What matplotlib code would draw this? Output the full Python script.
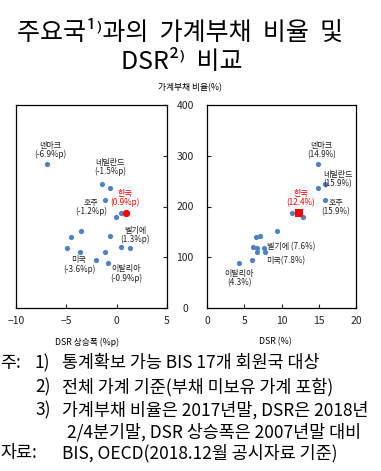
import matplotlib
matplotlib.use('Agg')
import matplotlib.pyplot as plt

plt.rcParams['font.family'] = ['Noto Sans CJK KR', 'DejaVu Sans']

# debt ratio (y, shared by both panels)
debt_ratio = [283, 245, 237, 212, 188, 188, 180, 151, 139, 141, 121, 119, 118, 111, 110, 94, 88]
# DSR change since 2007 (%p), left panel
dsr_change = [-6.9, -1.5, -0.7, -1.2, 0.9, 0.4, -0.05, -3.5, -4.5, -0.7, 0.4, 1.3, -4.9, -3.6, -1.2, -2.05, -0.9]
# DSR level (%), right panel
dsr_level = [14.9, 15.9, 14.85, 15.9, 12.4, 11.35, 12.95, 9.35, 6.6, 7.15, 6.15, 7.6, 6.65, 7.8, 6.65, 6.05, 4.3]
korea_idx = 4

# labels: (text, x, y, ha)
left_labels = [('덴마크\n(-6.9%p)', -6.6, 311, 'center'),
               ('네덜란드\n(-1.5%p)', -0.67, 278, 'center'),
               ('호주\n(-1.2%p)', -2.55, 199, 'center'),
               ('벨기에\n(1.3%p)', 1.82, 144, 'center'),
               ('미국\n(-3.6%p)', -3.74, 86, 'center'),
               ('이탈리아\n(-0.9%p)', 0.92, 68, 'center')]
left_korea = ('한국\n(0.9%p)', 0.82, 217)
right_labels = [('덴마크\n(14.9%)', 15.4, 311, 'center'),
                ('네덜란드\n(15.9%)', 15.6, 254, 'left'),
                ('호주\n(15.9%)', 17.3, 199, 'center'),
                ('벨기에 (7.6%)', 8.05, 120, 'left'),
                ('미국(7.8%)', 7.9, 92.6, 'left'),
                ('이탈리아\n(4.3%)', 4.3, 59, 'center')]
right_korea = ('한국\n(12.4%)', 12.6, 217)

W, H = 381, 471
blue = '#4F81C7'
red = '#FF0000'
lab_size = 5.8


def fx(px):
    return px / W


def fy(py):
    return 1 - py / H


fig = plt.figure(figsize=(W / 100, H / 100), dpi=100)
ax1 = fig.add_axes([fx(16), fy(308), fx(167) - fx(16), fy(105) - fy(308)])
ax2 = fig.add_axes([fx(207), fy(308), fx(356) - fx(207), fy(105) - fy(308)])

ax1.scatter(dsr_change, debt_ratio, s=14, color=blue, zorder=3, linewidths=0)
ax1.scatter([dsr_change[korea_idx]], [debt_ratio[korea_idx]], s=28, color=red, marker='o', zorder=4, linewidths=0)
ax2.scatter(dsr_level, debt_ratio, s=14, color=blue, zorder=3, linewidths=0)
ax2.scatter([dsr_level[korea_idx]], [debt_ratio[korea_idx]], s=26, color=red, marker='s', zorder=4, linewidths=0)

for text, x, y, ha in left_labels:
    ax1.text(x, y, text, ha=ha, va='center', fontsize=lab_size, color='#222222', linespacing=1.0)
ax1.text(left_korea[1], left_korea[2], left_korea[0], ha='center', va='center', fontsize=lab_size,
         color=red, linespacing=1.0)
for text, x, y, ha in right_labels:
    ax2.text(x, y, text, ha=ha, va='center', fontsize=lab_size, color='#222222', linespacing=1.0)
ax2.text(right_korea[1], right_korea[2], right_korea[0], ha='center', va='center', fontsize=lab_size,
         color=red, linespacing=1.0)

ax1.set_xlim(-10, 5)
ax1.set_ylim(0, 400)
ax1.set_xticks([-10, -5, 0, 5])
ax1.set_yticks([0, 100, 200, 300, 400])
ax1.yaxis.tick_right()
ax1.tick_params(axis='both', direction='in', length=3, width=0.8, labelsize=7.5, colors='#222222')
ax1.tick_params(axis='x', pad=6)
ax1.tick_params(axis='y', pad=13)
for lab in ax1.get_yticklabels():
    lab.set_horizontalalignment('center')

ax2.set_xlim(0, 20)
ax2.set_ylim(0, 400)
ax2.set_xticks([0, 5, 10, 15, 20])
ax2.set_yticks([100, 200, 300])
ax2.set_yticklabels([])
ax2.tick_params(axis='both', direction='in', length=3, width=0.8, labelsize=7.5, colors='#222222')
ax2.tick_params(axis='x', pad=6)

for ax in (ax1, ax2):
    for sp in ax.spines.values():
        sp.set_linewidth(0.9)

fig.text(fx(87), fy(342), 'DSR 상승폭 (%p)', ha='center', va='center', fontsize=6.3)
fig.text(fx(275), fy(342), 'DSR (%)', ha='center', va='center', fontsize=6.3)
fig.text(fx(190), fy(88), '가계부채 비율(%)', ha='center', va='center', fontsize=6.3)

# title
fig.text(fx(180), fy(33), '주요국¹⁾과의  가계부채  비율  및', ha='center', va='center', fontsize=18,
         fontweight='medium')
fig.text(fx(182), fy(62), 'DSR²⁾  비교', ha='center', va='center', fontsize=18, fontweight='medium')

# notes
note_size = 12.5
fig.text(fx(0), fy(363), '주:', ha='left', va='center', fontsize=note_size)
fig.text(fx(35), fy(363), '1)', ha='left', va='center', fontsize=note_size)
fig.text(fx(62), fy(363), '통계확보 가능 BIS 17개 회원국 대상', ha='left', va='center', fontsize=note_size)
fig.text(fx(35), fy(387), '2)', ha='left', va='center', fontsize=note_size)
fig.text(fx(62), fy(387), '전체 가계 기준(부채 미보유 가계 포함)', ha='left', va='center', fontsize=note_size)
fig.text(fx(35), fy(410), '3)', ha='left', va='center', fontsize=note_size)
fig.text(fx(62), fy(410), '가계부채 비율은 2017년말, DSR은 2018년', ha='left', va='center', fontsize=note_size)
fig.text(fx(67), fy(432), '2/4분기말, DSR 상승폭은 2007년말 대비', ha='left', va='center', fontsize=note_size)
fig.text(fx(0), fy(453), '자료:', ha='left', va='center', fontsize=note_size)
fig.text(fx(62), fy(453), 'BIS, OECD(2018.12월 공시자료 기준)', ha='left', va='center', fontsize=note_size)

fig.savefig('out.png', dpi=100)
